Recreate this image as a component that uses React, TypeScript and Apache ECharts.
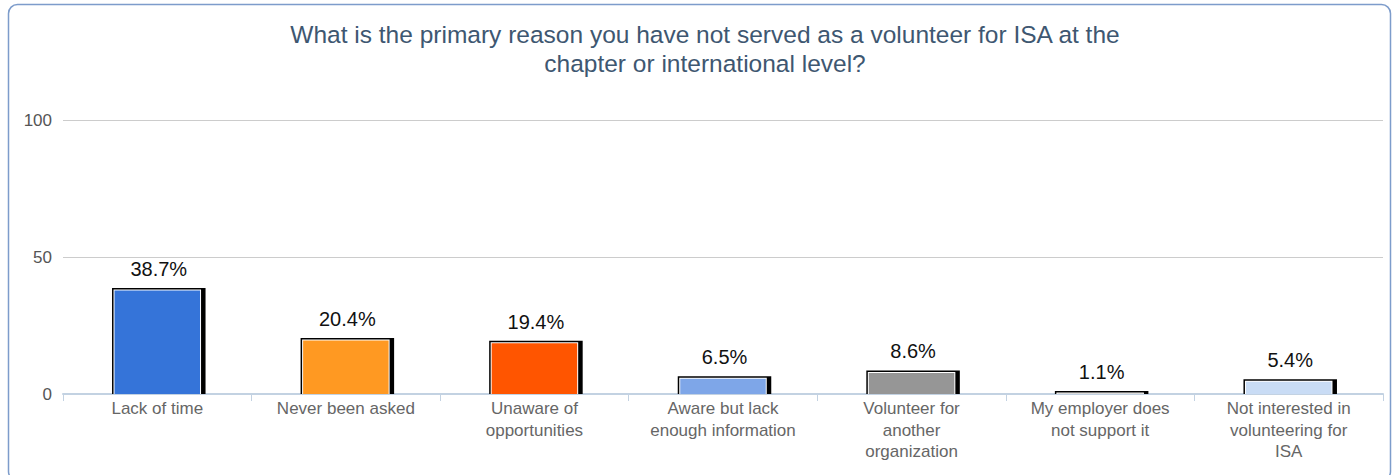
import React, { useEffect, useRef } from "react";
import * as echarts from "echarts";

const categories = [
  "Lack of time",
  "Never been asked",
  "Unaware of\nopportunities",
  "Aware but lack\nenough information",
  "Volunteer for\nanother\norganization",
  "My employer does\nnot support it",
  "Not interested in\nvolunteering for\nISA",
];
const values = [38.7, 20.4, 19.4, 6.5, 8.6, 1.1, 5.4];
const colors = ["#3574d9", "#ff9922", "#ff5500", "#7ea6e8", "#969696", "#b8b8b8", "#c9dcf5"];
const yTicks = [0, 50, 100];

const FONT = "'Liberation Sans', Arial, sans-serif";

export default function App() {
  const ref = useRef<HTMLDivElement>(null);
  useEffect(() => {
    if (!ref.current) return;
    const chart = echarts.init(ref.current, null, { renderer: "svg" });
    chart.setOption({
      animation: false,
      textStyle: { fontFamily: FONT },
      title: {
        text: "What is the primary reason you have not served as a volunteer for ISA at the\nchapter or international level?",
        left: 700,
        textAlign: "center",
        top: 15,
        textStyle: { fontSize: 24.5, fontWeight: "normal", color: "#3e5771", lineHeight: 29, fontFamily: FONT },
      },
      graphic: [
        {
          type: "rect",
          shape: { x: 8.5, y: 4.5, width: 1382, height: 476, r: 9 },
          style: { fill: "none", stroke: "#7d9ccb", lineWidth: 1.5 },
          silent: true,
        },
      ],
      grid: { left: 63, right: 16, top: 120, bottom: 81, containLabel: false },
      xAxis: {
        type: "category",
        data: categories,
        axisLine: { lineStyle: { color: "#c3d2e2", width: 2 } },
        axisTick: { show: true, alignWithLabel: false, length: 7, lineStyle: { color: "#c3d2e2" } },
        axisLabel: { fontSize: 17, color: "#666", lineHeight: 21.5, margin: 4, interval: 0, fontFamily: FONT },
        splitLine: { show: false },
      },
      yAxis: {
        type: "value",
        min: yTicks[0],
        max: yTicks[yTicks.length - 1],
        interval: 50,
        axisLine: { show: false },
        axisTick: { show: false },
        axisLabel: { fontSize: 17, color: "#555", margin: 11, fontFamily: FONT },
        splitLine: { lineStyle: { color: "#cccccc", width: 1 } },
      },
      series: [
        {
          type: "custom",
          data: values.map((v, i) => [i, v]),
          encode: { x: 0, y: 1 },
          renderItem: (params: any, api: any) => {
            const i = api.value(0);
            const v = api.value(1);
            const top = api.coord([i, v]);
            const base = api.coord([i, 0]);
            const bw = api.size([1, 0])[0] * 0.48;
            const x = top[0] - bw / 2;
            const y = top[1];
            const h = base[1] - top[1];
            const color = colors[params.dataIndex];
            return {
              type: "group",
              children: [
                { type: "rect", shape: { x: x, y: y, width: bw + 3, height: h }, style: { fill: "#000" } },
                { type: "rect", shape: { x: x + 1.5, y: y + 1.5, width: bw - 3, height: h - 1.5 }, style: { fill: "#fff" } },
                { type: "rect", shape: { x: x + 2.5, y: y + 2.5, width: bw - 5, height: h - 2.5 }, style: { fill: color } },
                {
                  type: "text",
                  x: top[0] + 1.5,
                  y: y - 19,
                  style: {
                    text: v + "%",
                    fontSize: 20,
                    fill: "#111",
                    align: "center",
                    verticalAlign: "middle",
                    fontFamily: FONT,
                  },
                },
              ],
            };
          },
        },
      ],
    });
    return () => chart.dispose();
  }, []);
  return (
    <div
      ref={ref}
      style={{ position: "absolute", left: 0, top: 0, width: 1399, height: 475 }}
    />
  );
}
